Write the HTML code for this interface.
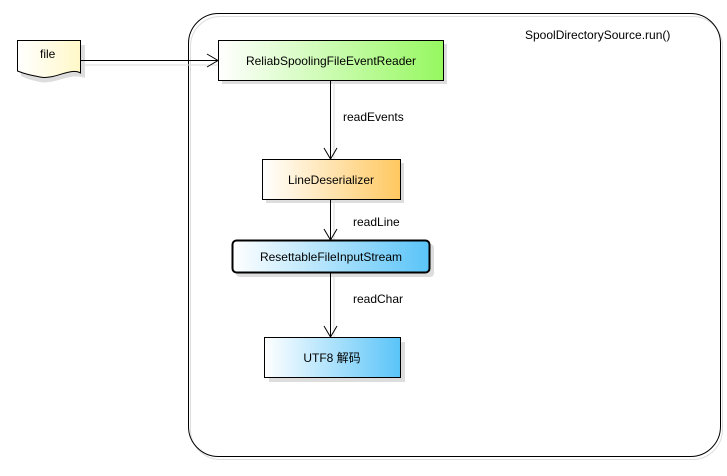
<!DOCTYPE html>
<html><head><meta charset="utf-8"><style>
body{margin:0;background:#fff;width:727px;height:471px;overflow:hidden}
text{font-family:"Liberation Sans","Noto Sans CJK SC",sans-serif;font-size:12px;fill:#000}
</style></head><body>
<svg width="727" height="471" viewBox="0 0 727 471">
<defs>
<linearGradient id="g" x1="0" y1="0" x2="1" y2="0"><stop offset="0" stop-color="#fff"/><stop offset="1" stop-color="#96f860"/></linearGradient>
<linearGradient id="o" x1="0" y1="0" x2="1" y2="0"><stop offset="0" stop-color="#fff"/><stop offset="1" stop-color="#ffc860"/></linearGradient>
<linearGradient id="b" x1="0" y1="0" x2="1" y2="0"><stop offset="0" stop-color="#fff"/><stop offset="1" stop-color="#5ac4f8"/></linearGradient>
<linearGradient id="y" x1="0" y1="0" x2="1" y2="0"><stop offset="0" stop-color="#fff"/><stop offset="1" stop-color="#fff8c8"/></linearGradient>
</defs>
<rect x="190.5" y="16.5" width="532" height="443" rx="30" fill="none" stroke="#ddd" stroke-width="1"/>
<rect x="188.5" y="13.5" width="532" height="443" rx="30" fill="none" stroke="#000" stroke-width="1"/>
<text x="525" y="39">SpoolDirectorySource.run()</text>
<!-- shadows -->
<rect x="222" y="44" width="225" height="40" fill="#ddd"/>
<rect x="266" y="163" width="138" height="40" fill="#ddd"/>
<rect x="236" y="244" width="198" height="33" rx="4" fill="#ddd"/>
<rect x="269" y="342" width="136" height="40" fill="#ddd"/>
<path d="M21,45 H85 V78 C70,72 55,85 40,82 C30,80 25,78 21,76 Z" fill="#ddd"/>
<!-- file -->
<path d="M17.5,40.5 H80.5 V73 C70,67 55,80 40,77 C30,75 25,74 17.5,71 Z" fill="url(#y)" stroke="#000"/>
<text x="40" y="58">file</text>
<!-- connectors -->
<line x1="84" y1="65" x2="222" y2="65" stroke="#ddd"/>
<line x1="80" y1="60.5" x2="218" y2="60.5" stroke="#000"/>
<path d="M207,54 L218,60.5 L207,67" fill="none" stroke="#000"/>
<line x1="334" y1="84" x2="334" y2="163" stroke="#ddd"/>
<line x1="330.5" y1="80" x2="330.5" y2="159" stroke="#000"/>
<path d="M324,148 L330.5,159 L337,148" fill="none" stroke="#000"/>
<line x1="334" y1="203" x2="334" y2="244" stroke="#ddd"/>
<line x1="330.5" y1="199" x2="330.5" y2="240" stroke="#000"/>
<path d="M324,229 L330.5,240 L337,229" fill="none" stroke="#000"/>
<line x1="334" y1="276" x2="334" y2="341" stroke="#ddd"/>
<line x1="330.5" y1="272" x2="330.5" y2="337" stroke="#000"/>
<path d="M324,326 L330.5,337 L337,326" fill="none" stroke="#000"/>
<text x="343" y="121">readEvents</text>
<text x="353" y="226">readLine</text>
<text x="353" y="303">readChar</text>
<!-- boxes -->
<rect x="218.5" y="40.5" width="225" height="40" fill="url(#g)" stroke="#000"/>
<text x="331" y="65" text-anchor="middle">ReliabSpoolingFileEventReader</text>
<rect x="262.5" y="159.5" width="138" height="40" fill="url(#o)" stroke="#000"/>
<text x="331" y="184" text-anchor="middle">LineDeserializer</text>
<rect x="232.5" y="240.5" width="197" height="32" rx="4" fill="url(#b)" stroke="#000" stroke-width="2"/>
<text x="331" y="261" text-anchor="middle">ResettableFileInputStream</text>
<rect x="264.5" y="337.5" width="136" height="40" fill="url(#b)" stroke="#000"/>
<text x="332" y="362" text-anchor="middle">UTF8  解码</text>
</svg>
</body></html>
